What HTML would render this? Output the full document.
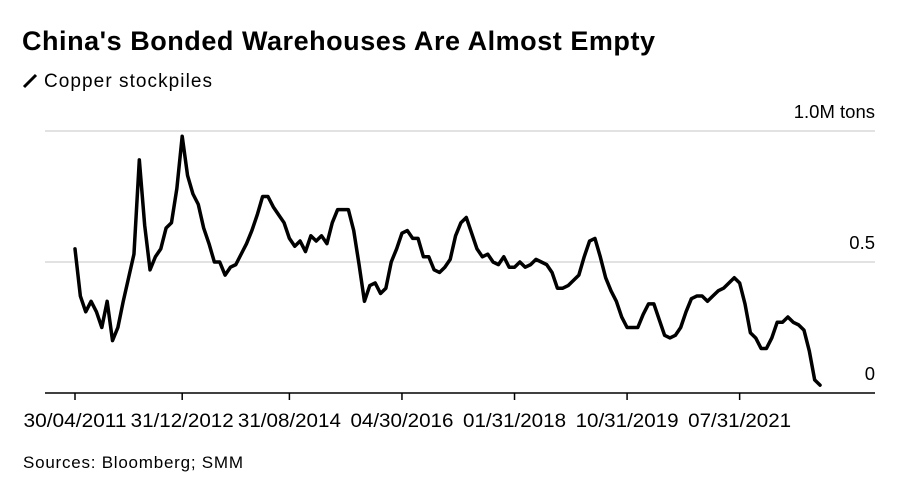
<!DOCTYPE html>
<html><head><meta charset="utf-8"><style>
body{margin:0;background:#fff;width:908px;height:488px;overflow:hidden;font-family:"Liberation Sans",sans-serif}
</style></head><body>
<svg width="908" height="488" xmlns="http://www.w3.org/2000/svg" font-family="Liberation Sans, sans-serif">
<text x="22" y="50" font-size="27" font-weight="bold" fill="#000" textLength="633">China's Bonded Warehouses Are Almost Empty</text>
<g><line x1="24" y1="87" x2="36" y2="75" stroke="#000" stroke-width="3"/><text x="44" y="87" font-size="19" fill="#000" textLength="168">Copper stockpiles</text></g>
<g id="grid"></g><g id="axis"></g><g id="series"></g>
<text x="23" y="468" font-size="17" fill="#000" textLength="220">Sources: Bloomberg; SMM</text>
</svg>
<script>
const values=[.55,.37,.31,.35,.31,.25,.35,.20,.25,.35,.44,.53,.89,.64,.47,.52,.55,.63,.65,.78,.98,.83,.76,.72,.63,.57,.50,.50,.45,.48,.49,.53,.57,.62,.68,.75,.75,.71,.68,.65,.59,.56,.58,.54,.60,.58,.60,.57,.65,.70,.70,.70,.62,.49,.35,.41,.42,.38,.40,.50,.55,.61,.62,.59,.59,.52,.52,.47,.46,.48,.51,.60,.65,.67,.61,.55,.52,.53,.50,.49,.52,.48,.48,.50,.48,.49,.51,.50,.49,.46,.40,.40,.41,.43,.45,.52,.58,.59,.52,.44,.39,.35,.29,.25,.25,.25,.30,.34,.34,.28,.22,.21,.22,.25,.31,.36,.37,.37,.35,.37,.39,.40,.42,.44,.42,.34,.23,.21,.17,.17,.21,.27,.27,.29,.27,.26,.24,.16,.05,.03];
const tickMonths=[0,20,40,61,82,103,124];
const tickLabels=["30/04/2011","31/12/2012","31/08/2014","04/30/2016","01/31/2018","10/31/2019","07/31/2021"];
const yTicks=[0,0.5,1.0];
const yTickLabels=["0","0.5","1.0M tons"];
const NS="http://www.w3.org/2000/svg";
const X=m=>75+m*5.36, Y=v=>393-v*262;
function mk(t,a,p){const e=document.createElementNS(NS,t);for(const k in a)e.setAttribute(k,a[k]);p.appendChild(e);return e;}
const grid=document.getElementById('grid'),axis=document.getElementById('axis'),series=document.getElementById('series');
yTicks.forEach((v,i)=>{
  if(v>0){const l=mk('line',{x1:45,x2:875,y1:Y(v),y2:Y(v),stroke:'#d9d9d9','stroke-width':1.5},grid);
  
  }
  const t=mk('text',{x:875,y:Y(v)-13,'text-anchor':'end','font-size':18.5,fill:'#000'},grid);
  t.textContent=yTickLabels[i];
  
  
});
const ax=mk('line',{x1:45,x2:875,y1:393,y2:393,stroke:'#000','stroke-width':1.5},axis);


tickMonths.forEach((m,i)=>{
  const tk=mk('line',{x1:X(m),x2:X(m),y1:393,y2:400,stroke:'#000','stroke-width':1.5},axis);
  
  
  const t=mk('text',{x:X(m)-51.5,y:427,'font-size':19,textLength:103,lengthAdjust:'spacingAndGlyphs',fill:'#000'},axis);
  t.textContent=tickLabels[i];
  
  
});
const pl=mk('polyline',{points:values.map((v,i)=>X(i)+','+Y(v)).join(' '),fill:'none',stroke:'#000','stroke-width':3.5,'stroke-linejoin':'round','stroke-linecap':'round'},series);


</script>
</body></html>
